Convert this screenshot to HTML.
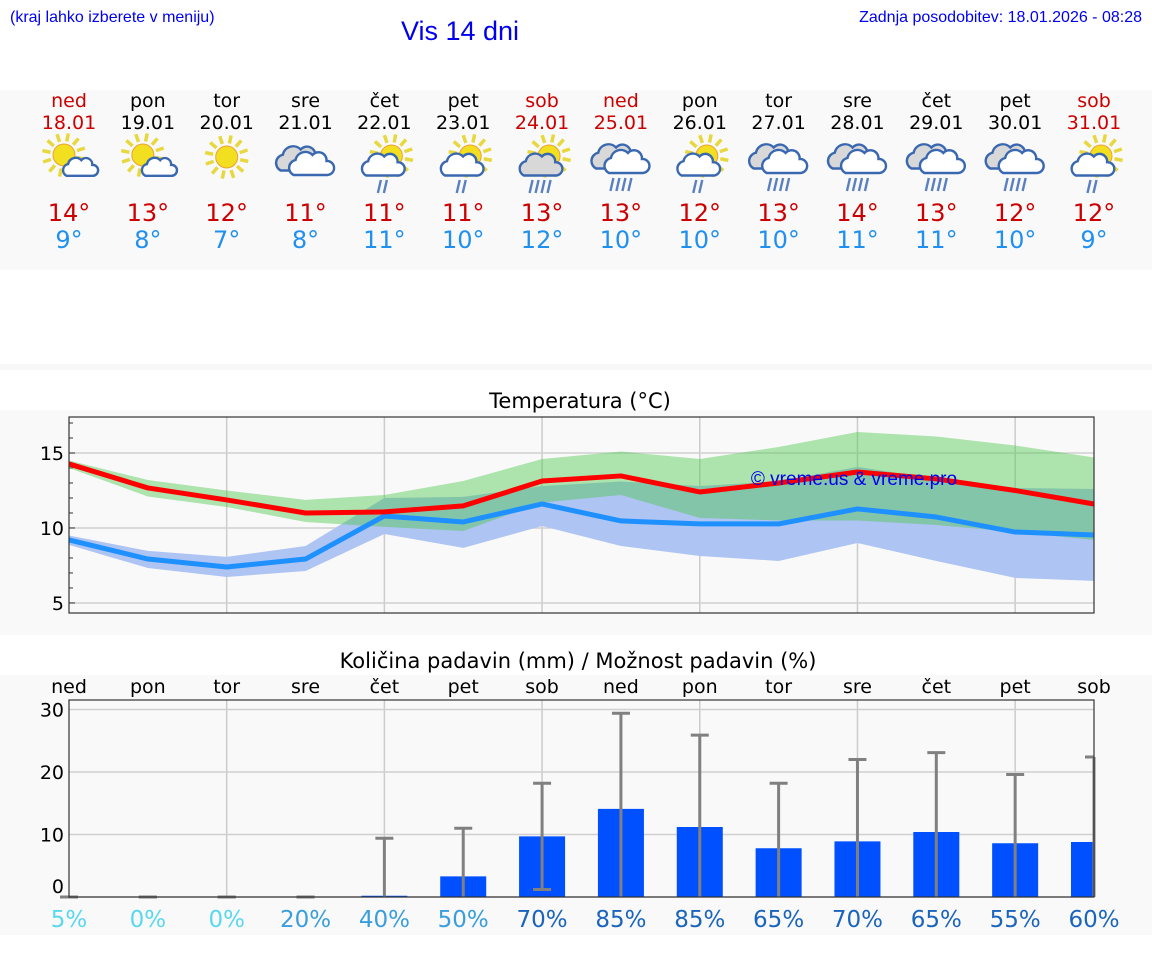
<!DOCTYPE html>
<html><head><meta charset="utf-8"><style>
body{margin:0;width:1152px;height:975px;background:#fff;overflow:hidden;font-family:"DejaVu Sans","Liberation Sans",sans-serif}
svg text{font-family:"DejaVu Sans","Liberation Sans",sans-serif}
</style></head><body>
<svg id="s" width="1152" height="975" viewBox="0 0 1152 975" xmlns="http://www.w3.org/2000/svg">
<rect x="0" y="90" width="1152" height="180" fill="#f9f9f9"/>
<rect x="0" y="364" width="1152" height="6" fill="#f7f7f7"/>
<rect x="0" y="410" width="1152" height="225" fill="#f9f9f9"/>
<rect x="0" y="675" width="1152" height="260" fill="#f9f9f9"/>
<text x="10" y="22" font-size="16" fill="#0000ee" style="font-family:'Liberation Sans',sans-serif">(kraj lahko izberete v meniju)</text>
<text x="460" y="40" font-size="27" fill="#0000ee" text-anchor="middle" style="font-family:'Liberation Sans',sans-serif">Vis 14 dni</text>
<text x="1142" y="22" font-size="16" fill="#0000ee" text-anchor="end" style="font-family:'Liberation Sans',sans-serif">Zadnja posodobitev: 18.01.2026 - 08:28</text>
<g id="days"></g>
<text x="580" y="408" font-size="21" text-anchor="middle" fill="#000">Temperatura (°C)</text>
<g id="tchart"></g>
<text x="578" y="668" font-size="21" text-anchor="middle" fill="#000">Količina padavin (mm) / Možnost padavin (%)</text>
<g id="pchart"></g>
<text x="854" y="485" font-size="19" fill="#0000ee" text-anchor="middle" style="font-family:'Liberation Sans',sans-serif">© vreme.us &amp; vreme.pro</text>
</svg>
<script>
const dayNames=["ned","pon","tor","sre","čet","pet","sob","ned","pon","tor","sre","čet","pet","sob"];
const dates=["18.01","19.01","20.01","21.01","22.01","23.01","24.01","25.01","26.01","27.01","28.01","29.01","30.01","31.01"];
const iconTypes=["sc","sc","s","c","scr2","scr2","scr4","cr","scr2","cr","cr","cr","cr","scr2"];
const maxT=[14,13,12,11,11,11,13,13,12,13,14,13,12,12];
const minT=[9,8,7,8,11,10,12,10,10,10,11,11,10,9];
const maxLine=[14.27,12.67,11.87,11.0,11.07,11.47,13.13,13.47,12.4,13.0,13.73,13.27,12.5,11.6];
const maxHi=[14.5,13.2,12.5,11.87,12.2,13.13,14.6,15.1,14.6,15.4,16.4,16.1,15.5,14.7];
const maxLo=[14.0,12.1,11.4,10.4,10.07,9.8,11.7,12.2,10.67,10.5,10.5,10.2,9.73,9.2];
const minLine=[9.2,7.93,7.4,7.93,10.8,10.4,11.6,10.47,10.27,10.27,11.27,10.73,9.73,9.53];
const minHi=[9.5,8.47,8.07,8.8,12.0,12.07,12.8,13.1,12.8,13.1,14.07,13.27,12.67,12.6];
const minLo=[8.87,7.33,6.73,7.13,9.6,8.67,10.13,8.8,8.13,7.8,9.0,7.8,6.67,6.47];
const tTicks=[5,10,15];
const precip=[0,0,0,0,0.2,3.3,9.7,14.1,11.2,7.8,8.9,10.4,8.6,8.8];
const precipHi=[0,0,0,0,9.4,11,18.2,29.4,25.9,18.2,22,23.1,19.6,22.4];
const precipLo=[0,0,0,0,0,0,1.2,0,0,0,0,0,0,0];
const chance=[5,0,0,20,40,50,70,85,85,65,70,65,55,60];
const pTicks=[0,10,20,30];

const NS="http://www.w3.org/2000/svg";
function mk(parent,tag,attrs,txt){const e=document.createElementNS(NS,tag);for(const k in attrs)e.setAttribute(k,attrs[k]);if(txt!==undefined)e.textContent=txt;parent.appendChild(e);return e;}
const X0=69,X1=1094,N=14;
const xAt=i=>X0+i*(X1-X0)/(N-1);
const weekend=i=>dayNames[i]==="ned"||dayNames[i]==="sob";

const days=document.getElementById('days');
function sun(g,cx,cy,r){
  for(let a=0;a<12;a++){const t=a*Math.PI/6+0.2;mk(g,'line',{x1:cx+Math.cos(t)*r*1.25,y1:cy+Math.sin(t)*r*1.25,x2:cx+Math.cos(t)*r*2.0,y2:cy+Math.sin(t)*r*2.0,stroke:'#e8d840','stroke-width':3.5});}
  mk(g,'circle',{cx:cx,cy:cy,r:r,fill:'#f2e020',stroke:'#f0a030','stroke-width':1});
}
function cloud(g,cx,cy,s,fill){
  const p=`M${cx-16*s},${cy+10*s} a${8*s},${8*s} 0 0 1 ${2*s},${-15*s} a${10*s},${10*s} 0 0 1 ${17*s},${-5*s} a${8*s},${8*s} 0 0 1 ${14*s},${6*s} a${6*s},${6*s} 0 0 1 ${1*s},${14*s} Z`;
  mk(g,'path',{d:p,fill:fill,stroke:'#3a68b0','stroke-width':2.4});
}
function rain(g,cx,cy,n){for(let k=0;k<n;k++){const x=cx+(k-(n-1)/2)*6;mk(g,'line',{x1:x+1.5,y1:cy,x2:x-1.5,y2:cy+13,stroke:'#5a80c0','stroke-width':2.4});}}
for(let i=0;i<N;i++){
  const x=xAt(i);
  const g=mk(days,'g',{});
  
  
  const col=weekend(i)?'#cc0000':'#000';
  mk(g,'text',{x:x,y:107,'font-size':19,'text-anchor':'middle',fill:col},dayNames[i]);
  mk(g,'text',{x:x,y:129,'font-size':19,'text-anchor':'middle',fill:col},dates[i]);
  const ic=mk(g,'g',{});
  
  
  const t=iconTypes[i];
  if(t==="s"){sun(ic,x,157,11);}
  else if(t==="sc"){sun(ic,x-5,155,11);cloud(ic,x+10,168,0.78,'#fff');}
  else if(t==="c"){cloud(ic,x-8,160,1.05,'#d8d8d8');cloud(ic,x+4,165,1.0,'#fff');}
  else if(t==="cr"){cloud(ic,x-8,158,1.05,'#d8d8d8');cloud(ic,x+4,163,1.0,'#fff');rain(ic,x,178,4);}
  else {sun(ic,x+7,156,11);cloud(ic,x-3,166,0.95,t==="scr4"?'#d8d8d8':'#fff');rain(ic,x-2,180,t==="scr4"?4:2);}
  mk(g,'text',{x:x,y:221,'font-size':24,'text-anchor':'middle',fill:'#cc0000'},maxT[i]+'°');
  mk(g,'text',{x:x,y:248,'font-size':24,'text-anchor':'middle',fill:'#2090f0'},minT[i]+'°');
}

const tc=document.getElementById('tchart');
const TY0=417,TY1=613,TMIN=4.33,TMAX=17.4;
const ty=v=>TY1-(v-TMIN)/(TMAX-TMIN)*(TY1-TY0);
mk(tc,'rect',{x:X0,y:TY0,width:X1-X0,height:TY1-TY0,fill:'#f9f9f9'});
for(let i=2;i<N;i+=2){mk(tc,'line',{x1:xAt(i),x2:xAt(i),y1:TY0,y2:TY1,stroke:'#ccc','stroke-width':1.5});}
for(const v of tTicks){mk(tc,'line',{x1:X0,x2:X1,y1:ty(v),y2:ty(v),stroke:'#d0d0d0','stroke-width':1.5});
  const tl=mk(tc,'text',{x:X0-5,y:ty(v)+7,'font-size':19,'text-anchor':'end',fill:'#000'},v);
  }
for(let v=5;v<=17;v++){mk(tc,'line',{x1:X0,x2:X0+(v%5?4:6),y1:ty(v),y2:ty(v),stroke:'#333','stroke-width':1});}
function band(hi,lo,fill,name){
  let d='M'+hi.map((v,i)=>xAt(i)+','+ty(v)).join(' L')+' L'+lo.map((v,i)=>xAt(i)+','+ty(v)).reverse().join(' L')+' Z';
  const p=mk(tc,'path',{d:d,fill:fill});
  
}
band(minHi,minLo,'#aec4f2','min-temp-range');
band(maxHi,maxLo,'rgba(80,200,80,0.45)','max-temp-range');
function line(arr,col,name){const p=mk(tc,'polyline',{points:arr.map((v,i)=>xAt(i)+','+ty(v)).join(' '),fill:'none',stroke:col,'stroke-width':5,'stroke-linejoin':'round'});
  }
line(minLine,'#1e90ff','min-temp-line');
line(maxLine,'#ff0000','max-temp-line');
mk(tc,'rect',{x:X0,y:TY0,width:X1-X0,height:TY1-TY0,fill:'none',stroke:'#333','stroke-width':1.2});

const pc=document.getElementById('pchart');
const PY0=700,PY1=897;
const py=v=>PY1-v*6.25;
for(let i=0;i<N;i++){const t=mk(pc,'text',{x:xAt(i),y:693,'font-size':19,'text-anchor':'middle',fill:'#000'},dayNames[i]);
  }
for(let i=2;i<N;i+=2){mk(pc,'line',{x1:xAt(i),x2:xAt(i),y1:PY0,y2:PY1,stroke:'#ccc','stroke-width':1.5});}
for(const v of pTicks){mk(pc,'line',{x1:X0,x2:X1,y1:py(v),y2:py(v),stroke:'#d0d0d0','stroke-width':1.5});
  const tl=mk(pc,'text',{x:X0-5,y:py(v)+(v===0?-4:7),'font-size':19,'text-anchor':'end',fill:'#000'},v);
  }
const chanceCol=c=>c<20?'#5ad8ee':c<=50?'#3a9edc':'#1a64bc';
for(let i=0;i<N;i++){
  const x=xAt(i);
  if(precip[i]>0){const w=(i===N-1)?(X1-(x-23)):46;
    const b=mk(pc,'rect',{x:x-23,y:py(precip[i]),width:w,height:PY1-py(precip[i]),fill:'#0050ff'});
    }
  const eg=mk(pc,'g',{stroke:'#808080','stroke-width':3});
  
  mk(eg,'line',{x1:x,x2:x,y1:py(precipHi[i]),y2:py(precipLo[i])});
  mk(eg,'line',{x1:x-9,x2:Math.min(x+9,X1),y1:py(precipHi[i]),y2:py(precipHi[i])});
  if(precipLo[i]>0||precipHi[i]===0) mk(eg,'line',{x1:Math.max(x-9,X0),x2:Math.min(x+9,X1),y1:py(precipLo[i]),y2:py(precipLo[i])});
  const t=mk(pc,'text',{x:x,y:927,'font-size':23,'text-anchor':'middle',fill:chanceCol(chance[i])},chance[i]+'%');
  
}
mk(pc,'rect',{x:X0,y:PY0,width:X1-X0,height:PY1-PY0,fill:'none',stroke:'#333','stroke-width':1.2});
</script>
</body></html>
